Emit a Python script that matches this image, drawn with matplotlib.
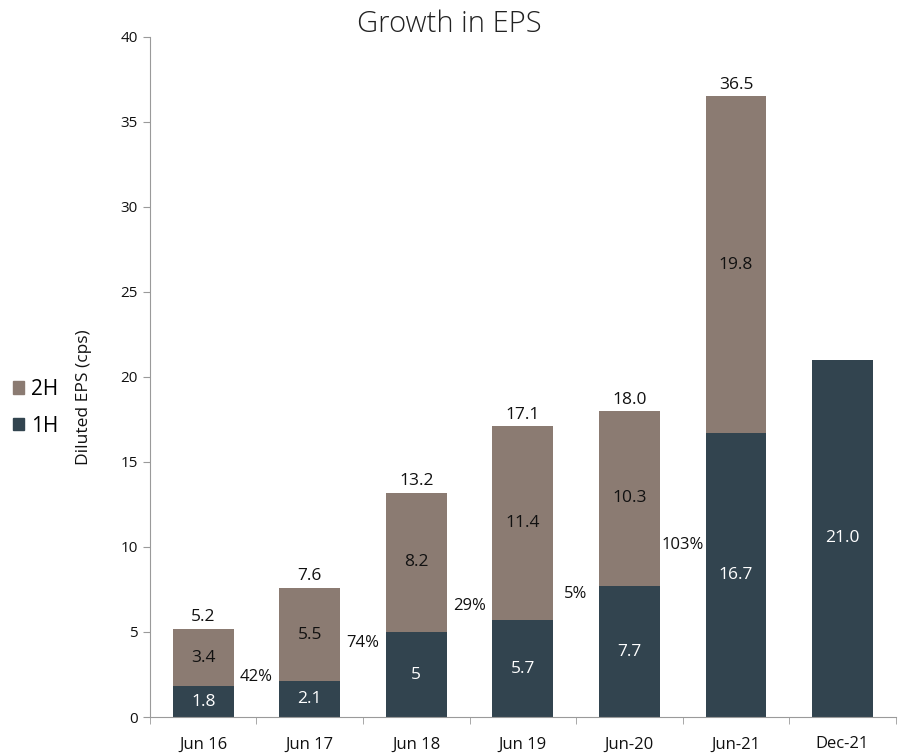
import matplotlib
matplotlib.use('Agg')
import matplotlib.pyplot as plt
from matplotlib.patches import Patch
import numpy as np

# half-year diluted EPS (cps)
periods = ["Jun 16", "Jun 17", "Jun 18", "Jun 19", "Jun-20", "Jun-21", "Dec-21"]
first_half = [1.8, 2.1, 5.0, 5.7, 7.7, 16.7, 21.0]
first_half_text = ["1.8", "2.1", "5", "5.7", "7.7", "16.7", "21.0"]
second_half = [3.4, 5.5, 8.2, 11.4, 10.3, 19.8, 0.0]
second_half_text = ["3.4", "5.5", "8.2", "11.4", "10.3", "19.8", ""]
totals_text = ["5.2", "7.6", "13.2", "17.1", "18.0", "36.5", ""]

# year-on-year growth, written between the bars
growth = ["42%", "74%", "29%", "5%", "103%"]
growth_y = [2.35, 4.35, 6.5, 7.25, 10.1]

c_1h = "#32444f"
c_2h = "#8b7b72"
axis_grey = "#9a9a9a"

plt.rcParams['font.family'] = ['Open Sans', 'DejaVu Sans']

fig = plt.figure(figsize=(9.03, 7.55), dpi=100)
ax = fig.add_axes([0.166, 0.0503, 0.826, 0.901])

x = np.arange(len(periods))
w = 0.57
b1 = ax.bar(x, first_half, w, color=c_1h)
b2 = ax.bar(x, second_half, w, bottom=first_half, color=c_2h)

for i in range(len(periods)):
    ax.text(x[i], first_half[i] / 2, first_half_text[i], ha='center', va='center',
            color='white', fontsize=12.5)
    if second_half[i] > 0:
        top = first_half[i] + second_half[i]
        ax.text(x[i], first_half[i] + second_half[i] / 2, second_half_text[i],
                ha='center', va='center', color='#111111', fontsize=12.5)
        ax.text(x[i], top + 0.2, totals_text[i], ha='center', va='bottom',
                color='#111111', fontsize=12.5)

for i, g in enumerate(growth):
    ax.text(x[i] + 0.5, growth_y[i], g, ha='center', va='center',
            color='#111111', fontsize=12)

ax.set_xlim(-0.5, len(periods) - 0.5)
ax.set_ylim(0, 40)
ax.set_yticks(range(0, 41, 5))
ax.set_xticks(x)
ax.set_xticklabels(periods, fontsize=12)
ax.set_xticks(np.arange(-0.5, len(periods)), minor=True)
ax.tick_params(axis='x', which='major', length=0, pad=14, labelcolor='#111111')
ax.tick_params(axis='x', which='minor', length=5, color=axis_grey)
ax.tick_params(axis='y', length=5, color=axis_grey, labelsize=11, labelcolor='#111111')

for s in ['top', 'right']:
    ax.spines[s].set_visible(False)
for s in ['left', 'bottom']:
    ax.spines[s].set_color(axis_grey)

ax.set_ylabel("Diluted EPS (cps)", fontsize=12.5, color='#111111')
ax.yaxis.set_label_coords(-0.077, 0.47)

fig.text(0.497, 0.968, "Growth in EPS", ha='center', va='center',
         fontsize=21, fontweight='light', color='#222222')

handles = [Patch(color=c_2h, label="2H"), Patch(color=c_1h, label="1H")]
fig.legend(handles=handles, loc='center left', bbox_to_anchor=(0.0, 0.46),
           frameon=False, fontsize=15, handlelength=0.55, handleheight=0.55,
           handletextpad=0.35, labelspacing=0.75, borderaxespad=0.3, borderpad=0.3)

fig.savefig("out.png", dpi=100)
